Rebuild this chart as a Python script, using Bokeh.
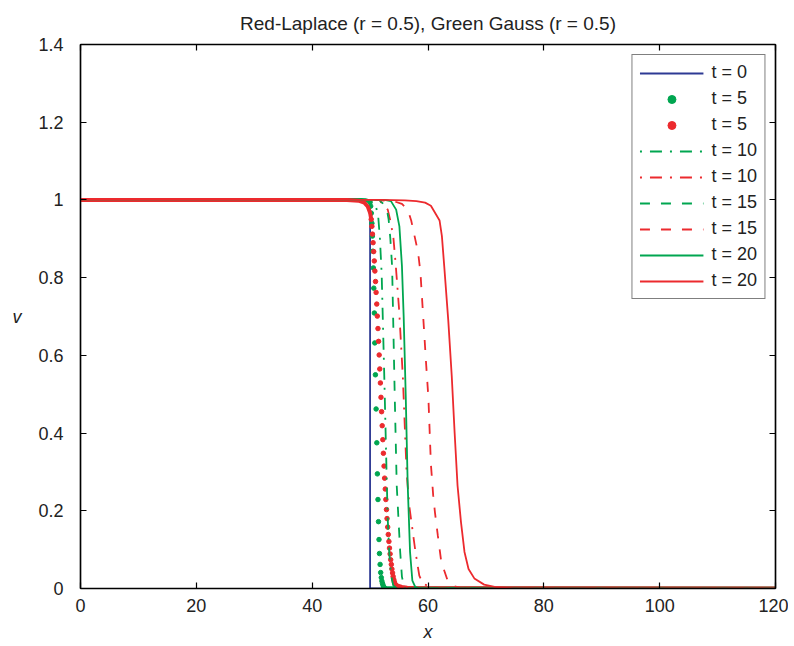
from bokeh.plotting import figure
from bokeh.models import (Range1d, LinearAxis, FixedTicker, Legend, LegendItem,
                          CustomJSTickFormatter, Title)
from bokeh.embed import file_html
from bokeh.resources import INLINE

# ---------------- data ----------------
title_text = "Red-Laplace (r = 0.5), Green Gauss (r = 0.5)"
x_ticks = [0, 20, 40, 60, 80, 100, 120]
y_ticks = [0, 0.2, 0.4, 0.6, 0.8, 1.0, 1.2, 1.4]
y_tick_labels = ["0", "0.2", "0.4", "0.6", "0.8", "1", "1.2", "1.4"]

# t = 0 (initial step)
t0_x = [0, 50, 50, 120]
t0_v = [1, 1, 0, 0]

# t = 5, Gauss (green dots)
g5_dot_x = [50.00, 50.10, 50.21, 50.31, 50.40, 50.48, 50.57, 50.64, 50.74, 50.81,
            50.92, 51.04, 51.16, 51.26, 51.36, 51.45, 51.54, 51.62, 51.73, 51.83,
            51.94, 52.04, 52.14, 52.25, 52.35]
g5_dot_v = [0.994, 0.984, 0.966, 0.940, 0.907, 0.868, 0.825, 0.773, 0.709, 0.632,
            0.550, 0.462, 0.375, 0.295, 0.229, 0.172, 0.126, 0.090, 0.062, 0.041,
            0.028, 0.019, 0.013, 0.008, 0.004]
g5_top_x = [0, 48.5, 49.3, 49.8, 50.0]
g5_top_v = [1, 1, 0.999, 0.997, 0.994]
g5_bot_x = [52.35, 52.8, 120]
g5_bot_v = [0.004, 0.001, 0]

# t = 5, Laplace (red dots)
l5_dot_x = [50.20, 50.31, 50.41, 50.52, 50.62, 50.73, 50.83, 50.94, 51.04, 51.15,
            51.25, 51.36, 51.46, 51.57, 51.67, 51.78, 51.88, 51.99, 52.09, 52.20,
            52.30, 52.41, 52.51, 52.62, 52.72, 52.83, 52.93, 53.04, 53.14, 53.25,
            53.35, 53.46, 53.56, 53.67, 53.77, 53.88, 53.98, 54.09, 54.19, 54.30]
l5_dot_v = [0.950, 0.932, 0.912, 0.890, 0.867, 0.843, 0.817, 0.790, 0.762, 0.732,
            0.701, 0.669, 0.636, 0.601, 0.565, 0.529, 0.492, 0.455, 0.419, 0.383,
            0.348, 0.315, 0.284, 0.256, 0.229, 0.203, 0.180, 0.158, 0.139, 0.121,
            0.104, 0.089, 0.074, 0.062, 0.050, 0.040, 0.031, 0.023, 0.017, 0.012]
l5_top_x = [0, 46, 48, 49, 49.6, 50.0, 50.2]
l5_top_v = [1, 1, 0.998, 0.993, 0.983, 0.967, 0.95]
l5_bot_x = [54.3, 54.8, 55.5, 56.4, 58.0, 120]
l5_bot_v = [0.012, 0.007, 0.004, 0.002, 0.0005, 0]

# t = 10
g10_x = [0, 50, 51.0, 51.4, 51.7, 52.0, 52.45, 52.9, 53.05, 53.3, 53.6, 54.0, 54.6, 120]
g10_v = [1, 1, 0.984, 0.958, 0.9, 0.81, 0.547, 0.265, 0.179, 0.094, 0.035, 0.008, 0, 0]
l10_x = [0, 50, 51.5, 52.4, 53.05, 53.45, 54.0, 54.4, 55.0, 55.65, 56.3, 56.8, 57.8,
         58.5, 59.1, 60.5, 63, 120]
l10_v = [1, 1, 0.997, 0.99, 0.975, 0.95, 0.907, 0.838, 0.72, 0.547, 0.3, 0.209, 0.098,
         0.033, 0.013, 0.003, 0, 0]

# t = 15
g15_x = [0, 51.5, 52.8, 53.2, 53.5, 53.8, 54.25, 54.6, 55.2, 55.5, 55.9, 56.5, 120]
g15_v = [1, 1, 0.984, 0.95, 0.9, 0.83, 0.5, 0.265, 0.094, 0.03, 0.005, 0, 0]
l15_x = [0, 51, 54.0, 55.5, 56.5, 57.1, 58.3, 58.7, 59.7, 60.07, 60.5, 60.9, 61.2,
         61.7, 62.3, 63.4, 64.0, 65.5, 68, 120]
l15_v = [1, 1, 0.997, 0.99, 0.975, 0.947, 0.864, 0.812, 0.573, 0.49, 0.32, 0.239,
         0.196, 0.136, 0.068, 0.02, 0.008, 0.002, 0, 0]

# t = 20
g20_x = [0, 52.5, 53.6, 54.5, 55.06, 55.5, 55.8, 56.15, 56.5, 56.9, 57.3, 57.8, 58.5, 120]
g20_v = [1, 1, 0.997, 0.975, 0.932, 0.83, 0.70, 0.5, 0.265, 0.094, 0.02, 0.004, 0, 0]
l20_x = [0, 52, 56.0, 58.0, 59.5, 60.5, 62.0, 62.4, 62.8, 63.5, 64.1, 64.6, 65.1,
         65.7, 66.3, 67.0, 68.0, 69.7, 71.5, 75, 120]
l20_v = [1, 1, 0.999, 0.997, 0.993, 0.985, 0.947, 0.907, 0.83, 0.69, 0.547, 0.40,
         0.265, 0.17, 0.094, 0.05, 0.026, 0.01, 0.004, 0, 0]

labels = ["t = 0", "t = 5", "t = 5", "t = 10", "t = 10", "t = 15", "t = 15", "t = 20", "t = 20"]

# ---------------- styling ----------------
BLUE = "#2e3a94"
GREEN = "#00a650"
RED = "#ec2a2e"
FONT = "Liberation Sans"
LW = 1.8
DASH = "10 11"
DASHDOT = "2 8 12 8"

p = figure(width=788, height=644, output_backend="svg", toolbar_location=None,
           title=None,
           x_range=Range1d(0, 120), y_range=Range1d(0, 1.4),
           min_border_left=80, min_border_right=13, min_border_top=43,
           min_border_bottom=50)
p.background_fill_color = "white"
p.border_fill_color = "white"
p.grid.visible = False
p.outline_line_color = "black"
p.outline_line_width = 1.2

yfmt = CustomJSTickFormatter(args=dict(yt=y_ticks, yl=y_tick_labels), code="""
    const i = yt.findIndex(t => Math.abs(t - tick) < 1e-9);
    return i >= 0 ? yl[i] : '';
""")
blankfmt = CustomJSTickFormatter(code="return '';")

def style_axis(ax, ticks):
    ax.ticker = FixedTicker(ticks=ticks)
    ax.minor_tick_line_color = None
    ax.major_tick_in = 6
    ax.major_tick_out = 0
    ax.axis_line_color = "black"
    ax.axis_line_width = 1.5
    ax.major_tick_line_color = "black"
    ax.major_tick_line_width = 1.2
    ax.major_label_text_font = FONT
    ax.major_label_text_font_size = "18px"
    ax.major_label_text_color = "#222222"
    ax.axis_label_text_font = FONT
    ax.axis_label_text_font_size = "18px"
    ax.axis_label_text_font_style = "italic"
    ax.axis_label_text_color = "#222222"

style_axis(p.xaxis[0], x_ticks)
style_axis(p.yaxis[0], y_ticks)
p.yaxis[0].formatter = yfmt
p.xaxis[0].axis_label = "x"
p.yaxis[0].axis_label = "v"
p.yaxis[0].axis_label_orientation = "horizontal"
p.xaxis[0].major_label_standoff = 10
p.yaxis[0].major_label_standoff = 17
p.xaxis[0].axis_label_standoff = 7
p.yaxis[0].axis_label_standoff = 14

ax_r = LinearAxis()
style_axis(ax_r, y_ticks)
ax_r.formatter = blankfmt
ax_r.major_label_standoff = 0
p.add_layout(ax_r, "right")
ax_t = LinearAxis()
style_axis(ax_t, x_ticks)
ax_t.formatter = blankfmt
ax_t.major_label_standoff = 0
p.add_layout(ax_t, "above")

title = Title(text=title_text, align="center", text_font=FONT, text_font_size="19px",
              text_font_style="normal", text_color="#222222", standoff=21)
p.add_layout(title, "above")

# ---------------- curves ----------------
r_t0 = p.line(t0_x, t0_v, color=BLUE, line_width=LW)

p.line(g5_top_x, g5_top_v, color=GREEN, line_width=4)
p.line(g5_bot_x, g5_bot_v, color=GREEN, line_width=4)
r_g5 = p.scatter(g5_dot_x, g5_dot_v, size=4.5, color=GREEN)

p.line(l5_top_x, l5_top_v, color=RED, line_width=4)
p.line(l5_bot_x, l5_bot_v, color=RED, line_width=4)
r_l5 = p.scatter(l5_dot_x, l5_dot_v, size=4.5, color=RED)

r_g10 = p.line(g10_x, g10_v, color=GREEN, line_width=LW, line_dash=DASHDOT)
r_l10 = p.line(l10_x, l10_v, color=RED, line_width=LW, line_dash=DASHDOT)
r_g15 = p.line(g15_x, g15_v, color=GREEN, line_width=LW, line_dash=DASH)
r_l15 = p.line(l15_x, l15_v, color=RED, line_width=LW, line_dash=DASH)
r_g20 = p.line(g20_x, g20_v, color=GREEN, line_width=LW)
r_l20 = p.line(l20_x, l20_v, color=RED, line_width=LW)

renderers = [r_t0, r_g5, r_l5, r_g10, r_l10, r_g15, r_l15, r_g20, r_l20]
items = [LegendItem(label=lab, renderers=[r]) for lab, r in zip(labels, renderers)]
legend = Legend(items=items, location="top_right")
legend.margin = 10
legend.padding = 7
legend.spacing = 5
legend.glyph_width = 64
legend.glyph_height = 20
legend.label_height = 20
legend.label_standoff = 8
legend.label_text_font = FONT
legend.label_text_font_size = "18px"
legend.label_text_color = "#222222"
legend.border_line_color = "black"
legend.border_line_width = 1.5
legend.background_fill_color = "white"
legend.background_fill_alpha = 1.0
p.add_layout(legend)

open("out.html", "w").write(file_html(p, INLINE))
